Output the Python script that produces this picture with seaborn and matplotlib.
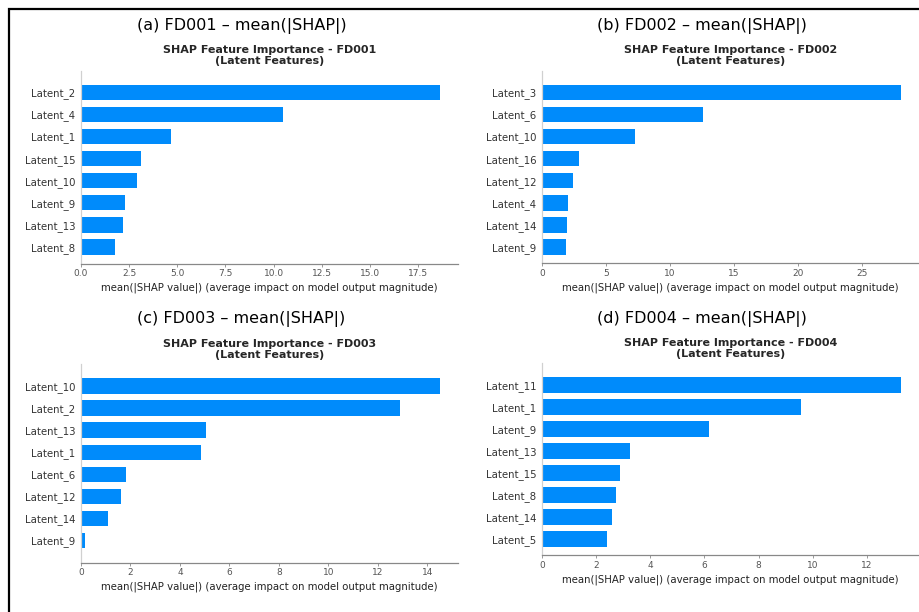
import matplotlib
matplotlib.use('Agg')
import matplotlib.pyplot as plt
import seaborn as sns
from matplotlib.patches import Rectangle

# datos (mean |SHAP| por variable latente)
fd001_labels = ['Latent_2', 'Latent_4', 'Latent_1', 'Latent_15', 'Latent_10', 'Latent_9', 'Latent_13', 'Latent_8']
fd001_values = [18.64, 10.49, 4.65, 3.13, 2.92, 2.26, 2.18, 1.78]

fd002_labels = ['Latent_3', 'Latent_6', 'Latent_10', 'Latent_16', 'Latent_12', 'Latent_4', 'Latent_14', 'Latent_9']
fd002_values = [28.09, 12.63, 7.26, 2.87, 2.40, 2.04, 1.98, 1.85]

fd003_labels = ['Latent_10', 'Latent_2', 'Latent_13', 'Latent_1', 'Latent_6', 'Latent_12', 'Latent_14', 'Latent_9']
fd003_values = [14.52, 12.91, 5.04, 4.85, 1.82, 1.60, 1.10, 0.17]

fd004_labels = ['Latent_11', 'Latent_1', 'Latent_9', 'Latent_13', 'Latent_15', 'Latent_8', 'Latent_14', 'Latent_5']
fd004_values = [13.26, 9.56, 6.15, 3.24, 2.89, 2.72, 2.57, 2.41]

x_ticks = {
    'FD001': [0, 2.5, 5, 7.5, 10, 12.5, 15, 17.5],
    'FD002': [0, 5, 10, 15, 20, 25],
    'FD003': [0, 2, 4, 6, 8, 10, 12, 14],
    'FD004': [0, 2, 4, 6, 8, 10, 12],
}
x_tick_fmt = {'FD001': '{:.1f}', 'FD002': '{:g}', 'FD003': '{:g}', 'FD004': '{:g}'}

SHAP_BLUE = '#008bfb'
W, H = 919, 612

sns.set_theme(style='white')
plt.rcParams['font.family'] = ['DejaVu Sans']

fig = plt.figure(figsize=(W / 100, H / 100), dpi=100)
fig.patch.set_facecolor('white')

# (letra, dataset, etiquetas, valores, [izq, der, arriba, abajo] en px, ylim arriba/abajo, centro titulo grande)
paneles = [
    ('a', 'FD001', fd001_labels, fd001_values, [81, 458, 70.7, 263.5], (-0.98, 7.75), (241.5, 26)),
    ('b', 'FD002', fd002_labels, fd002_values, [542, 919, 70.7, 263.3], (-0.98, 7.74), (702, 26)),
    ('c', 'FD003', fd003_labels, fd003_values, [81, 458, 364, 562.5], (-1.0, 8.0), (241.5, 319.3)),
    ('d', 'FD004', fd004_labels, fd004_values, [542, 919, 363.3, 555.3], (-0.98, 7.73), (702, 318.7)),
]

for letra, nombre, etiquetas, valores, caja, ylims, centro in paneles:
    izq, der, arriba, abajo = caja
    ax = fig.add_axes([izq / W, 1 - abajo / H, (der - izq) / W, (abajo - arriba) / H])
    sns.barplot(x=valores, y=etiquetas, orient='h', color=SHAP_BLUE, saturation=1,
                width=0.7, ax=ax, linewidth=0)
    ax.set_xlim(0, max(valores) * 1.05)
    ax.set_ylim(ylims[1], ylims[0])
    ax.set_xticks(x_ticks[nombre])
    ax.set_xticklabels([x_tick_fmt[nombre].format(t) for t in x_ticks[nombre]])
    for lado in ['top', 'right']:
        ax.spines[lado].set_visible(False)
    ax.spines['left'].set_color('#d0d0d0')
    ax.spines['bottom'].set_color('#888888')
    ax.spines['left'].set_linewidth(0.9)
    ax.spines['bottom'].set_linewidth(0.9)
    ax.tick_params(axis='y', length=0, pad=4, labelsize=7.3, labelcolor='#333333')
    ax.tick_params(axis='x', length=2.5, width=0.6, color='#888888', pad=1.5,
                   labelsize=6.5, labelcolor='#555555', bottom=True)
    ax.set_xlabel('mean(|SHAP value|) (average impact on model output magnitude)',
                  fontsize=7.25, color='#222222', labelpad=3.5)
    ax.set_ylabel('')
    ax.set_title(f'SHAP Feature Importance - {nombre}\n(Latent Features)',
                 fontsize=8, fontweight='bold', pad=4.5, linespacing=1.15)
    fig.text(centro[0] / W, 1 - centro[1] / H, f'({letra}) {nombre} \u2013 mean(|SHAP|)',
             ha='center', va='center', fontsize=11.5, color='black')

# marco negro de la figura compuesta
marco = Rectangle((8.5 / W, -0.1), 1.2, 1 - 8.5 / H + 0.1, transform=fig.transFigure,
                  fill=False, edgecolor='black', linewidth=1.6)
fig.patches.append(marco)

fig.savefig('out.png', dpi=100)
